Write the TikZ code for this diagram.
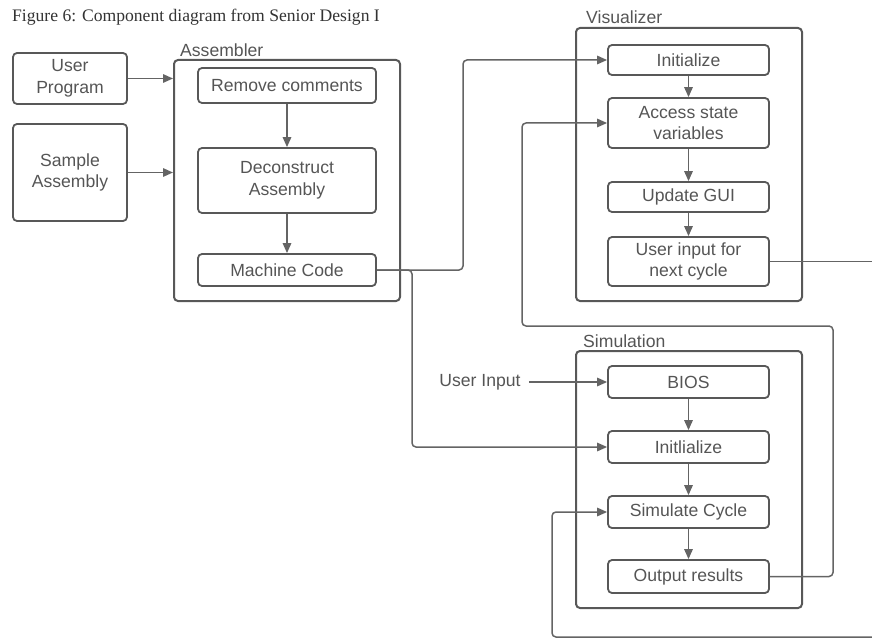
\documentclass[tikz,border=0pt]{standalone}
\usepackage{fontspec}
\setmainfont{Liberation Sans}
\newfontfamily\titlefont{Liberation Serif}
\usetikzlibrary{arrows.meta}
\definecolor{linec}{HTML}{646464}
\definecolor{boxc}{HTML}{585858}
\definecolor{txtc}{HTML}{555555}
\tikzset{
  box/.style={draw=boxc, line width=1.8pt, rounded corners=4pt, inner sep=0pt,
    text=txtc, align=center, font=\fontsize{17.6}{21.5}\selectfont},
  cont/.style={draw=boxc, line width=2pt, rounded corners=4pt, inner sep=0pt},
  lbl/.style={text=txtc, inner sep=0pt, font=\fontsize{17.6}{21}\selectfont},
  conn/.style={draw=linec, line width=1.5pt, rounded corners=4pt},
  arr/.style={conn, -{Triangle[length=10pt,width=8.5pt]}}
}
\begin{document}
\begin{tikzpicture}[x=1pt,y=-1pt]
\useasboundingbox (0,0) rectangle (872,639);
\node[anchor=base west, inner sep=0pt, text=black!80, font=\titlefont\fontsize{17.6}{20}\selectfont] (title) at (12,22) {Figure 6: Component diagram from Senior Design I};

% left inputs
\node[box, minimum width=114pt, minimum height=51pt] (up) at (70,78.5) {User\\Program};
\node[box, minimum width=114pt, minimum height=97pt] (sa) at (70,172.5) {Sample\\Assembly};

% Assembler
\node[cont, minimum width=226pt, minimum height=241pt] (asm) at (287,180.5) {};
\node[lbl, anchor=base west] (asml) at (180,57) {Assembler};
\node[box, minimum width=178pt, minimum height=35pt] (rc) at (287,85.5) {Remove comments};
\node[box, minimum width=178pt, minimum height=65pt] (da) at (287,180.5) {Deconstruct\\Assembly};
\node[box, minimum width=178pt, minimum height=32pt] (mc) at (287,270) {Machine Code};

% Visualizer
\node[cont, minimum width=226pt, minimum height=273pt] (vis) at (689,164.5) {};
\node[lbl, anchor=base west] (visl) at (586,24) {Visualizer};
\node[box, minimum width=161pt, minimum height=30pt] (vinit) at (688.5,60) {Initialize};
\node[box, minimum width=161pt, minimum height=50pt] (acc) at (688.5,123) {Access state\\variables};
\node[box, minimum width=161pt, minimum height=30pt] (gui) at (688.5,197) {Update GUI};
\node[box, minimum width=161pt, minimum height=49pt] (uin) at (688.5,261.5) {User input for\\next cycle};

% Simulation
\node[cont, minimum width=226pt, minimum height=257pt] (sim) at (689,479.5) {};
\node[lbl, anchor=base west] (siml) at (583,347) {Simulation};
\node[box, minimum width=161pt, minimum height=32pt] (bios) at (688.5,382) {BIOS};
\node[box, minimum width=161pt, minimum height=32pt] (sinit) at (688.5,447) {Initlialize};
\node[box, minimum width=161pt, minimum height=32pt] (sc) at (688.5,512) {Simulate Cycle};
\node[box, minimum width=161pt, minimum height=33pt] (out) at (688.5,576.5) {Output results};

\node[lbl] (uinput) at (480,382) {User Input};

\coordinate (edgeR) at (872,261.5);
\coordinate (edgeB) at (872,637);

% connectors
\draw[arr] (up.east) -- (up.east -| asm.west);
\draw[arr] (sa.east) -- (sa.east -| asm.west);
\draw[arr] (rc) -- (da);
\draw[arr] (da) -- (mc);
\draw[arr] (vinit) -- (acc);
\draw[arr] (acc) -- (gui);
\draw[arr] (gui) -- (uin);
\draw[arr] (bios) -- (sinit);
\draw[arr] (sinit) -- (sc);
\draw[arr] (sc) -- (out);

\draw[arr] (mc.east) -- (463,270) |- (vinit.west);
\draw[arr] (mc.east) -- (412,270) |- (sinit.west);
\draw[arr] (uinput.east) ++(8,0) -- (bios.west);
\draw[arr] (out.east) -| (833,326) -- (522,326) |- (acc.west);
\draw[conn] (uin.east) -- (edgeR);
\draw[arr] (edgeB) -- (552,637) |- (sc.west);
\end{tikzpicture}
\end{document}
